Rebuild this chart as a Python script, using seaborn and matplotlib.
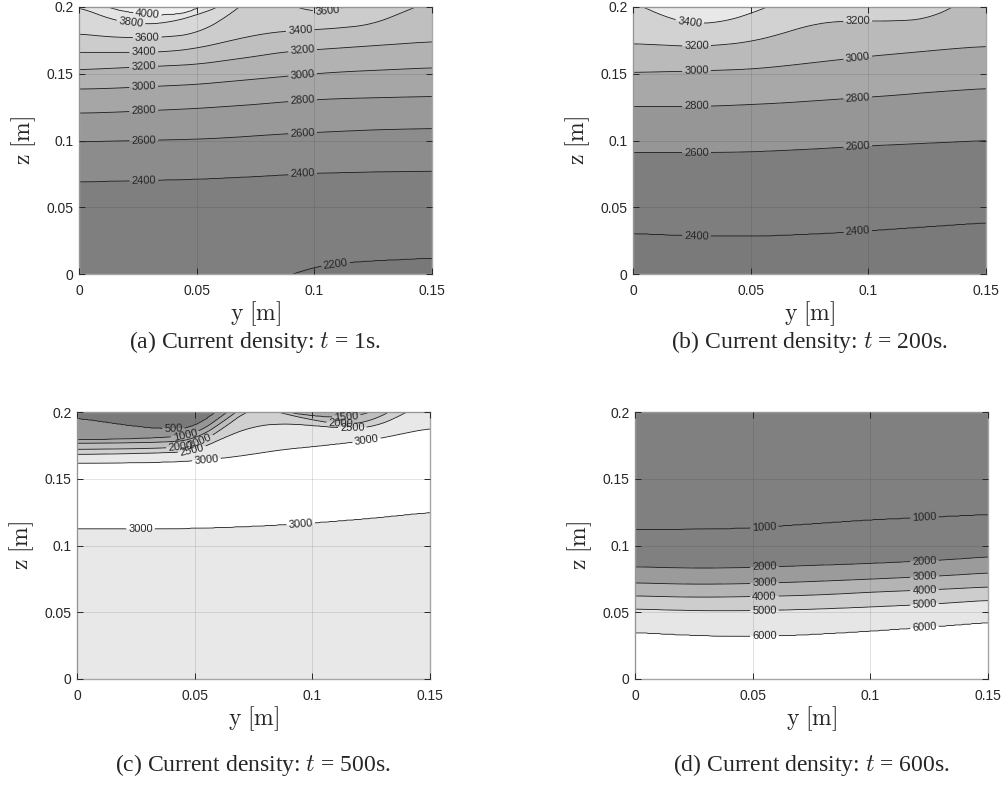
import numpy as np
import matplotlib
matplotlib.use("Agg")
import matplotlib.pyplot as plt
from matplotlib.ticker import FuncFormatter
import seaborn as sns

y_cols = [0, 0.0125, 0.025, 0.0375, 0.05, 0.0625, 0.075, 0.0875, 0.1, 0.1125, 0.125, 0.1375, 0.15]

# (a) t = 1 s : value of each contour track and its height z [m] at y_cols
a_values = [2000, 2200, 2400, 2600, 2800, 3000, 3200, 3400, 3600, 3800, 4000, 4200]
a_heights = [
    [-0.5] * 13,
    [-0.04, -0.035, -0.03, -0.027, -0.022, -0.016, -0.01, -0.002, 0.0055, 0.0085, 0.010, 0.011, 0.012],
    [0.069, 0.0695, 0.070, 0.0705, 0.071, 0.072, 0.073, 0.0743, 0.0755, 0.076, 0.0765, 0.0768, 0.077],
    [0.099, 0.0995, 0.100, 0.1005, 0.101, 0.102, 0.1035, 0.105, 0.106, 0.107, 0.108, 0.1085, 0.109],
    [0.1205, 0.121, 0.122, 0.123, 0.124, 0.1255, 0.127, 0.129, 0.1305, 0.1315, 0.132, 0.1325, 0.133],
    [0.1385, 0.139, 0.140, 0.141, 0.142, 0.144, 0.146, 0.148, 0.150, 0.1515, 0.1525, 0.1535, 0.1545],
    [0.153, 0.154, 0.155, 0.156, 0.157, 0.160, 0.163, 0.1665, 0.168, 0.1695, 0.171, 0.1725, 0.174],
    [0.166, 0.166, 0.166, 0.1665, 0.169, 0.174, 0.179, 0.182, 0.183, 0.1845, 0.187, 0.196, 0.205],
    [0.180, 0.1775, 0.177, 0.1775, 0.180, 0.192, 0.21, 0.203, 0.1955, 0.199, 0.207, 0.215, 0.22],
    [0.2005, 0.191, 0.187, 0.188, 0.194, 0.202, 0.22, 0.225, 0.23, 0.23, 0.23, 0.23, 0.23],
    [0.207, 0.199, 0.1945, 0.1935, 0.1965, 0.215, 0.235, 0.24, 0.24, 0.24, 0.24, 0.24, 0.24],
    [0.5] * 13,
]
a_levels = [2200, 2400, 2600, 2800, 3000, 3200, 3400, 3600, 3800, 4000]

# (b) t = 200 s
b_values = [2200, 2400, 2600, 2800, 3000, 3200, 3400, 3600, 3700]
b_heights = [
    [-0.5] * 13,
    [0.0305, 0.0295, 0.0288, 0.0285, 0.0285, 0.029, 0.030, 0.031, 0.0325, 0.034, 0.0355, 0.037, 0.0385],
    [0.091, 0.091, 0.091, 0.0912, 0.0915, 0.0925, 0.0935, 0.0948, 0.096, 0.097, 0.098, 0.099, 0.100],
    [0.1255, 0.1255, 0.1255, 0.126, 0.127, 0.128, 0.1295, 0.131, 0.1325, 0.134, 0.136, 0.1375, 0.139],
    [0.151, 0.1515, 0.152, 0.1527, 0.1535, 0.1555, 0.158, 0.1605, 0.163, 0.165, 0.167, 0.169, 0.1705],
    [0.1725, 0.1715, 0.1705, 0.1715, 0.174, 0.1795, 0.1865, 0.1895, 0.1895, 0.1895, 0.191, 0.201, 0.215],
    [0.204, 0.193, 0.1875, 0.1885, 0.195, 0.204, 0.23, 0.23, 0.23, 0.23, 0.23, 0.23, 0.24],
    [0.22, 0.21, 0.201, 0.1985, 0.2045, 0.22, 0.24, 0.24, 0.24, 0.24, 0.24, 0.24, 0.25],
    [0.5] * 13,
]
b_levels = [2400, 2600, 2800, 3000, 3200, 3400, 3600]

# (c) t = 500 s  (3300 is the unlabeled maximum between the two 3000 lines)
c_values = [2600, 3000, 3300, 3000, 2500, 2000, 1500, 1000, 500, 300]
c_heights = [
    [-0.5] * 13,
    [0.1125, 0.1125, 0.1125, 0.1127, 0.113, 0.1137, 0.1145, 0.1157, 0.117, 0.1187, 0.1205, 0.1227, 0.125],
    [0.137, 0.137, 0.137, 0.1375, 0.138, 0.140, 0.142, 0.1435, 0.145, 0.1475, 0.150, 0.153, 0.156],
    [0.1618, 0.1619, 0.162, 0.1625, 0.1635, 0.1655, 0.1685, 0.172, 0.174, 0.1765, 0.179, 0.1835, 0.188],
    [0.1683, 0.1685, 0.169, 0.1695, 0.1705, 0.181, 0.1895, 0.1915, 0.19, 0.188, 0.188, 0.197, 0.21],
    [0.172, 0.1722, 0.1725, 0.173, 0.1745, 0.188, 0.205, 0.199, 0.194, 0.1905, 0.1925, 0.205, 0.22],
    [0.1766, 0.1768, 0.177, 0.1775, 0.179, 0.193, 0.21, 0.200, 0.197, 0.1955, 0.199, 0.21, 0.225],
    [0.179, 0.1795, 0.180, 0.181, 0.1825, 0.198, 0.215, 0.215, 0.215, 0.215, 0.215, 0.22, 0.23],
    [0.1953, 0.192, 0.189, 0.187, 0.1875, 0.205, 0.22, 0.22, 0.22, 0.22, 0.22, 0.225, 0.235],
    [0.5] * 13,
]
c_levels = [500, 1000, 1500, 2000, 2500, 3000]

# (d) t = 600 s
d_values = [7500, 6000, 5000, 4000, 3000, 2000, 1000, 500]
d_heights = [
    [-0.5] * 13,
    [0.035, 0.0338, 0.0328, 0.0322, 0.032, 0.0325, 0.0335, 0.0347, 0.036, 0.0375, 0.039, 0.0407, 0.0425],
    [0.0525, 0.0518, 0.0513, 0.0512, 0.0513, 0.0517, 0.0523, 0.0531, 0.054, 0.055, 0.056, 0.0575, 0.059],
    [0.0623, 0.0617, 0.0613, 0.0614, 0.0618, 0.0622, 0.0628, 0.0638, 0.065, 0.0659, 0.0668, 0.0678, 0.069],
    [0.072, 0.0714, 0.071, 0.0711, 0.0715, 0.0722, 0.073, 0.0739, 0.0748, 0.0758, 0.0768, 0.078, 0.0795],
    [0.084, 0.0834, 0.083, 0.0831, 0.0835, 0.0842, 0.085, 0.0857, 0.0865, 0.0875, 0.0885, 0.0898, 0.0915],
    [0.112, 0.112, 0.112, 0.1123, 0.113, 0.1145, 0.116, 0.1175, 0.119, 0.12, 0.121, 0.122, 0.123],
    [0.5] * 13,
]
d_levels = [1000, 2000, 3000, 4000, 5000, 6000]

captions = ["(a) Current density: $t$ = 1s.", "(b) Current density: $t$ = 200s.",
            "(c) Current density: $t$ = 500s.", "(d) Current density: $t$ = 600s."]

sns.set_theme(style="white")
plt.rcParams["font.family"] = ["Liberation Sans", "DejaVu Sans"]
plt.rcParams["mathtext.fontset"] = "cm"

yf = np.linspace(0, 0.15, 301)
zf = np.linspace(0, 0.2, 401)


def smooth(row, n=15):
    # light moving average so the piecewise-linear tracks look like contour curves
    pad = np.pad(row, n, mode="edge")
    return np.convolve(pad, np.ones(2 * n + 1) / (2 * n + 1), mode="same")[n:-n]


def build_field(heights, values):
    h = np.array([smooth(np.interp(yf, y_cols, row)) for row in heights])
    F = np.empty((len(zf), len(yf)))
    for j in range(len(yf)):
        F[:, j] = np.interp(zf, h[:, j], values)
    return F


def grays(vals):
    return [(g / 255, g / 255, g / 255) for g in vals]


panels = [
    (a_heights, a_values, a_levels, [1900] + a_levels + [4300],
     grays([120, 127, 140, 153, 166, 178, 191, 204, 216, 228, 240]),
     [(0.029, 0.1935), (0.022, 0.187), (0.029, 0.177), (0.0275, 0.166), (0.0275, 0.1535),
      (0.0275, 0.139), (0.0275, 0.1215), (0.0275, 0.1), (0.0275, 0.07),
      (0.1055, 0.1965), (0.094, 0.1825), (0.095, 0.167), (0.095, 0.15), (0.095, 0.13),
      (0.095, 0.106), (0.095, 0.075), (0.109, 0.0075)]),
    (b_heights, b_values, b_levels, [2100] + b_levels + [3800],
     grays([122, 126, 150, 168, 186, 210, 232, 242]),
     [(0.024, 0.187), (0.027, 0.1705), (0.027, 0.1515), (0.027, 0.1255), (0.027, 0.091),
      (0.027, 0.0285), (0.0955, 0.189), (0.0955, 0.162), (0.0955, 0.132),
      (0.0955, 0.0955), (0.0955, 0.032)]),
    (c_heights, c_values, c_levels, [0] + c_levels + [4000],
     grays([122, 150, 172, 190, 208, 232, 255]),
     [(0.041, 0.1865), (0.046, 0.182), (0.052, 0.179), (0.044, 0.1735), (0.049, 0.1705),
      (0.055, 0.1645), (0.027, 0.1125), (0.095, 0.117), (0.1145, 0.1955), (0.112, 0.1905),
      (0.117, 0.1875), (0.123, 0.1795)]),
    (d_heights, d_values, d_levels, [0] + d_levels + [8000],
     grays([128, 128, 155, 180, 205, 230, 255]),
     [(0.055, 0.113), (0.123, 0.121), (0.055, 0.0835), (0.123, 0.0885), (0.055, 0.0715),
      (0.123, 0.0765), (0.055, 0.0618), (0.123, 0.0665), (0.055, 0.0513), (0.123, 0.056),
      (0.055, 0.032), (0.123, 0.0385)]),
]

boxes = [(79, 7), (633, 7), (77, 412), (635, 412)]
caption_y = [342, 342, 765, 765]
W, H = 1006, 787
fig = plt.figure(figsize=(W / 100, H / 100), dpi=100)

for i, (heights, values, levels, edges, colors, label_pos) in enumerate(panels):
    px, py = boxes[i]
    ax = fig.add_axes([px / W, 1 - (py + 267) / H, 353 / W, 267 / H])
    F = build_field(heights, values)
    ax.contourf(yf, zf, F, levels=edges, colors=colors)
    cs = ax.contour(yf, zf, F, levels=levels, colors="#1a1a1a", linewidths=0.6)
    ax.clabel(cs, manual=label_pos, inline=True, inline_spacing=2, fontsize=8,
              fmt="%d", colors="#262626")

    ax.set_xlim(0, 0.15)
    ax.set_ylim(0, 0.2)
    ax.set_xticks([0, 0.05, 0.1, 0.15])
    ax.set_yticks([0, 0.05, 0.1, 0.15, 0.2])
    fmt = FuncFormatter(lambda v, p: "%g" % round(v, 3))
    ax.xaxis.set_major_formatter(fmt)
    ax.yaxis.set_major_formatter(fmt)
    ax.set_axisbelow(False)
    ax.grid(True, color="#262626", alpha=0.13, lw=0.7)
    ax.tick_params(direction="in", length=4, width=0.7, color="#262626",
                   labelsize=10, labelcolor="#262626", top=True, right=True,
                   bottom=True, left=True)
    ax.tick_params(axis="x", pad=7)
    ax.tick_params(axis="y", pad=4)
    for s in ax.spines.values():
        s.set_color("#a6a6a6")
        s.set_linewidth(1.0)
    ax.set_xlabel(r"$\mathrm{y}\ [\mathrm{m}]$", fontsize=17, labelpad=1)
    ax.set_ylabel(r"$\mathrm{z}\ [\mathrm{m}]$", fontsize=17, labelpad=6)

    fig.text((px + 176) / W, 1 - caption_y[i] / H, captions[i], ha="center", va="center",
             fontsize=17, family=["Liberation Serif", "DejaVu Serif"])

fig.savefig("out.png", dpi=100)
